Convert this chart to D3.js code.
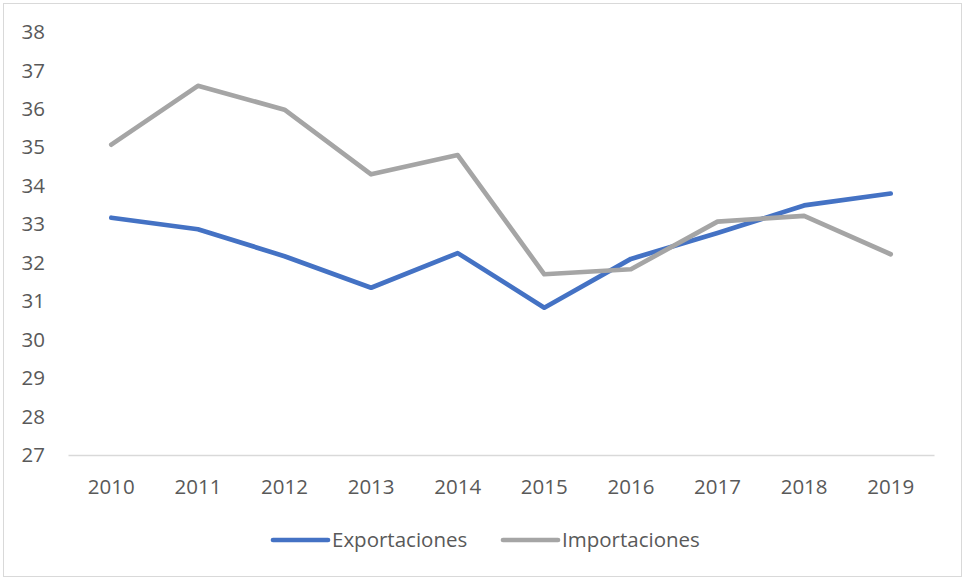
<!DOCTYPE html>
<html>
<head>
<meta charset="utf-8">
<script src="https://cdn.jsdelivr.net/npm/d3@7"></script>
<style>
  body { margin: 0; background: #fff; }
  svg text { font-family: "Open Sans", "Liberation Sans", sans-serif; fill: #595959; }
</style>
</head>
<body>
<div id="chart"></div>
<script>
// data
var years = ["2010","2011","2012","2013","2014","2015","2016","2017","2018","2019"];
var exportaciones = [33.17, 32.87, 32.17, 31.35, 32.25, 30.83, 32.1, 32.77, 33.49, 33.8];
var importaciones = [35.07, 36.6, 35.98, 34.3, 34.8, 31.7, 31.83, 33.07, 33.22, 32.22];
var yTicks = [27, 28, 29, 30, 31, 32, 33, 34, 35, 36, 37, 38];
var seriesNames = ["Exportaciones", "Importaciones"];
var colors = ["#4472C4", "#A5A5A5"];

var W = 964, H = 580;
var margin = {top: 32, right: 30, bottom: 125, left: 68},
    width = 934 - margin.left,
    height = 455 - margin.top;

var svg = d3.select("#chart")
    .append("svg")
    .attr("width", W)
    .attr("height", H);

// outer border
svg.append("rect")
    .attr("x", 3.5).attr("y", 3.5)
    .attr("width", 958).attr("height", 573)
    .attr("fill", "#fff")
    .attr("stroke", "#d9d9d9")
    .attr("stroke-width", 1);

var g = svg.append("g")
    .attr("transform", "translate(" + margin.left + "," + margin.top + ")");

var x = d3.scaleBand()
    .domain(years)
    .range([0, width]);

var y = d3.scaleLinear()
    .domain([27, 38])
    .range([height, 0]);

// x axis
var xAxis = g.append("g")
    .attr("transform", "translate(0," + height + ")")
    .call(d3.axisBottom(x).tickSize(0).tickPadding(24));
xAxis.select(".domain").attr("stroke", "#d9d9d9").attr("stroke-width", 1.5);
xAxis.selectAll("text").style("font-size", "20.5px");

// y axis
var yAxis = g.append("g")
    .call(d3.axisLeft(y).tickValues(yTicks).tickSize(0).tickPadding(23));
yAxis.select(".domain").remove();
yAxis.selectAll("text").style("font-size", "20.5px");

var line = d3.line()
    .x(function(d, i) { return x(years[i]) + x.bandwidth() / 2; })
    .y(function(d) { return y(d); });

[exportaciones, importaciones].forEach(function(s, k) {
    g.append("path")
        .datum(s)
        .attr("fill", "none")
        .attr("stroke", colors[k])
        .attr("stroke-width", 4.7)
        .attr("stroke-linejoin", "round")
        .attr("stroke-linecap", "round")
        .attr("d", line);
});

// legend
var legendX = [273, 503];
var legend = svg.append("g");
seriesNames.forEach(function(name, k) {
    legend.append("line")
        .attr("x1", legendX[k]).attr("x2", legendX[k] + 55)
        .attr("y1", 540).attr("y2", 540)
        .attr("stroke", colors[k])
        .attr("stroke-width", 4.7)
        .attr("stroke-linecap", "round");
    legend.append("text")
        .attr("x", legendX[k] + 59)
        .attr("y", 540)
        .attr("dy", "0.35em")
        .style("font-size", "20.5px")
        .text(name);
});
</script>
</body>
</html>
